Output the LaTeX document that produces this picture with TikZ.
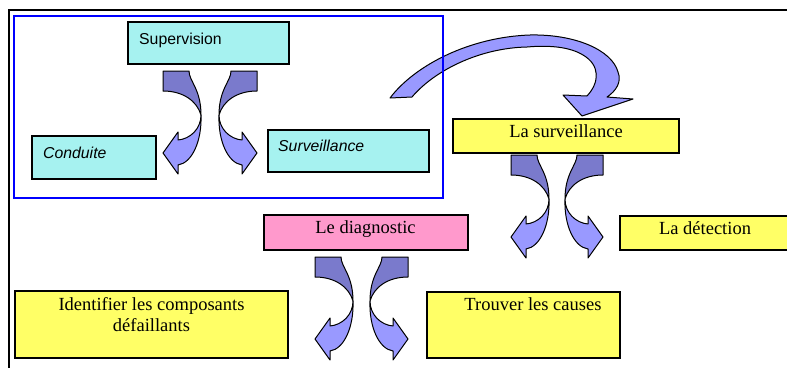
\documentclass[tikz,border=0pt]{standalone}
\usepackage{fontspec}
\setmainfont{Liberation Serif}
\newfontfamily\arialf{Liberation Sans}
\definecolor{boxcyan}{RGB}{166,242,240}
\definecolor{boxyellow}{RGB}{255,255,102}
\definecolor{boxpink}{RGB}{255,153,204}
\definecolor{arrdark}{RGB}{122,122,204}
\definecolor{arrlight}{RGB}{153,153,255}
\definecolor{frameblue}{RGB}{0,0,255}
\newcommand{\curvarr}{%
  \draw[darkpart] (0,0) -- (26,0) .. controls (26,10) and (38,18) .. (38,44)
     .. controls (34,30) and (20,20) .. (0,20) -- cycle;
  \draw[lightpart] (38,44) .. controls (38,58) and (27,68) .. (15,69) -- (15,61)
     -- (0,82) -- (15,103) -- (15,94) .. controls (29,92) and (39,70) .. (38,44) -- cycle;
}
\begin{document}
\begin{tikzpicture}[x=1pt,y=-1pt,
  box/.style={draw=black,line width=1.1pt,inner sep=0pt,outer sep=0pt,anchor=north west},
  serif/.style={font=\fontsize{18.5}{21.5}\selectfont,inner sep=0pt},
  sans/.style={font=\arialf\fontsize{15.8}{18}\selectfont,inner sep=0pt},
  darkpart/.style={fill=arrdark,draw=black,line width=1pt,line join=round},
  lightpart/.style={fill=arrlight,draw=black,line width=1pt,line join=round}]
\useasboundingbox (0,0) rectangle (787,367);
\clip (0,0) rectangle (787,367);
\fill[white] (0,0) rectangle (787,367);
% outer frame
\draw[line width=1.6pt] (9,420) -- (9,10) -- (820,10);
% big curved arrow
\draw[lightpart] (390,98) .. controls (415,65) and (470,37) .. (530,35)
   .. controls (575,34) and (612,50) .. (618,72)
   .. controls (622,82) and (616,91) .. (607,97) -- (633,99) -- (582,116) -- (563,95) -- (587,96)
   .. controls (600,82) and (600,65) .. (583,55)
   .. controls (570,47) and (550,45) .. (527,47)
   .. controls (480,48) and (435,70) .. (412,97) -- cycle;
% blue frame
\node[draw=frameblue,line width=1.3pt,inner sep=0pt,outer sep=0pt,anchor=north west,
      minimum width=429pt,minimum height=182pt] (group) at (14,16) {};
% boxes
\node[box,fill=boxcyan,minimum width=161pt,minimum height=42pt] (sup) at (128,22) {};
\node[box,fill=boxcyan,minimum width=124pt,minimum height=43pt] (cond) at (32,136) {};
\node[box,fill=boxcyan,minimum width=161pt,minimum height=42pt] (surv) at (268,130) {};
\node[box,fill=boxyellow,minimum width=226pt,minimum height=34pt] (lasurv) at (453,119) {};
\node[box,fill=boxyellow,minimum width=172pt,minimum height=34pt] (detect) at (620,216) {};
\node[box,fill=boxpink,minimum width=204pt,minimum height=35pt] (diag) at (264,215) {};
\node[box,fill=boxyellow,minimum width=273pt,minimum height=67pt] (ident) at (15,291) {};
\node[box,fill=boxyellow,minimum width=193pt,minimum height=66pt] (causes) at (427,292) {};
% texts
\node[sans,anchor=base west] (supT) at (139,44) {Supervision};
\node[sans,anchor=base west] (condT) at (43,158) {\itshape Conduite};
\node[sans,anchor=base west] (survT) at (278,151) {\itshape Surveillance};
\node[serif,anchor=base] (lasurvT) at (566,137.5) {La surveillance};
\node[serif,anchor=base] (detectT) at (705,234) {La détection};
\node[serif,anchor=base] (diagT) at (365.5,233.5) {Le diagnostic};
\node[serif,anchor=base] (identT) at (151.5,310) {Identifier les composants};
\node[serif,anchor=base] (identU) at (151.5,331.5) {défaillants};
\node[serif,anchor=base] (causesT) at (533,310) {Trouver les causes};
% curved arrows
\begin{scope}[shift={(163,71)}]\curvarr\end{scope}
\begin{scope}[shift={(257,71)},xscale=-1]\curvarr\end{scope}
\begin{scope}[shift={(511,155)}]\curvarr\end{scope}
\begin{scope}[shift={(603,155)},xscale=-1]\curvarr\end{scope}
\begin{scope}[shift={(315,257)}]\curvarr\end{scope}
\begin{scope}[shift={(408,257)},xscale=-1]\curvarr\end{scope}
\end{tikzpicture}
\end{document}
